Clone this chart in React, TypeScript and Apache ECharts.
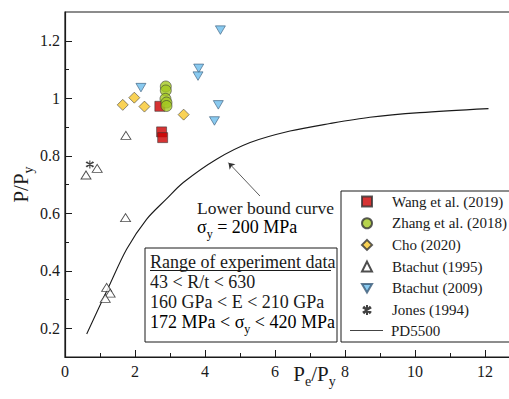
import React, { useEffect, useRef } from "react";
import * as echarts from "echarts";

// ---- data ----
const wang: number[][] = [[2.71, 0.972], [2.76, 0.883], [2.79, 0.863]];
const zhang: number[][] = [[2.88, 1.041], [2.88, 1.027], [2.87, 0.998], [2.9, 0.985], [2.9, 0.973]];
const cho: number[][] = [[1.65, 0.977], [1.98, 1.002], [2.27, 0.971], [3.39, 0.943]];
const btachut1995: number[][] = [[0.6, 0.733], [0.92, 0.756], [1.74, 0.871], [1.73, 0.585], [1.19, 0.342], [1.29, 0.322], [1.15, 0.304]];
const btachut2009: number[][] = [[2.17, 1.037], [4.44, 1.237], [3.82, 1.104], [3.8, 1.077], [4.38, 0.977], [4.27, 0.921]];
const jones: number[][] = [[0.71, 0.77]];
const pd5500: number[][] = [
  [0.62, 0.18], [1.24, 0.342], [1.76, 0.475], [2.33, 0.579], [2.9, 0.65], [3.38, 0.707],
  [4.33, 0.788], [5.29, 0.846], [6.43, 0.886], [7.57, 0.912], [8.71, 0.934], [10.14, 0.95], [12.1, 0.964],
];
const arrowCoords: number[][] = [[5.57, 0.66], [4.67, 0.776]];

const xMajor = [0, 2, 4, 6, 8, 10, 12];
const xMinor = [1, 3, 5, 7, 9, 11];
const yMajor = [0.2, 0.4, 0.6, 0.8, 1, 1.2];
const yMinor = [0.3, 0.5, 0.7, 0.9, 1.1];

const markerNames = ["Wang et al. (2019)", "Zhang et al. (2018)", "Cho (2020)", "Btachut (1995)", "Btachut (2009)", "Jones (1994)"];
const lineName = "PD5500";

const FONT = "Liberation Serif";
const INK = "#1a1a1a";
const DOWN_TRI = "path://M0,0L10,0L5,8.5Z";

export default function App() {
  const ref = useRef<HTMLDivElement>(null);
  useEffect(() => {
    if (!ref.current) return;
    const chart = echarts.init(ref.current, undefined, { renderer: "svg" });
    const sub = {
      a: { fontSize: 21, fontFamily: FONT, color: INK, lineHeight: 21, verticalAlign: "top" },
      s: { fontSize: 14, fontFamily: FONT, color: INK, lineHeight: 14, verticalAlign: "top", padding: [11, 0, 0, 0] },
    };
    const sub18 = {
      a: { fontSize: 18, fontFamily: FONT, color: INK, lineHeight: 18, verticalAlign: "top" },
      s: { fontSize: 12, fontFamily: FONT, color: INK, lineHeight: 12, verticalAlign: "top", padding: [10, 0, 0, 0] },
    };
    const axisCommon = {
      type: "value",
      splitLine: { show: false },
    };
    const markerBorder = { borderColor: "#333", borderWidth: 0.7 };
    const legendText = { fontSize: 15, color: INK, fontFamily: FONT, lineHeight: 14 };
    const boxText = (text: string, y: number, x = 150, size = 18) => ({
      type: "text", x, y, z: 2,
      style: { text, fontSize: size, fontFamily: FONT, fill: INK, verticalAlign: "middle" },
    });
    chart.setOption({
      animation: false,
      backgroundColor: "#fff",
      textStyle: { fontFamily: FONT },
      grid: {
        left: 65, top: 12, right: -11, bottom: 42, show: true, borderColor: INK, borderWidth: 1.2,
        backgroundColor: "transparent", containLabel: false, outerBoundsMode: "none",
      },
      xAxis: [
        {
          ...axisCommon,
          min: 0, max: 13,
          name: "{a|P}{s|e}{a|/P}{s|y}",
          nameLocation: "middle",
          nameGap: 6,
          nameMoveOverlap: false,
          nameTextStyle: { rich: sub, align: "center", verticalAlign: "top", padding: [0, 0, 0, 44] },
          axisLine: { lineStyle: { color: INK, width: 1.2 } },
          axisTick: { inside: true, length: 7, customValues: xMajor, lineStyle: { color: INK } },
          axisLabel: { customValues: xMajor, fontSize: 16, color: INK, fontFamily: FONT, margin: 6 },
        },
        {
          ...axisCommon,
          min: 0, max: 13, position: "bottom",
          axisLine: { show: false },
          axisTick: { inside: true, length: 4, customValues: xMinor, lineStyle: { color: INK } },
          axisLabel: { show: false },
        },
      ],
      yAxis: [
        {
          ...axisCommon,
          min: 0.1, max: 1.3,
          name: "{a|P/P}{s|y}",
          nameLocation: "middle",
          nameGap: 34,
          nameMoveOverlap: false,
          nameRotate: 90,
          nameTextStyle: { rich: sub },
          axisLine: { lineStyle: { color: INK, width: 1.2 } },
          axisTick: { inside: true, length: 7, customValues: yMajor, lineStyle: { color: INK } },
          axisLabel: {
            customValues: yMajor, fontSize: 16, color: INK, fontFamily: FONT, margin: 5,
            formatter: (v: number) => String(+Number(v).toFixed(1)),
          },
        },
        {
          ...axisCommon,
          min: 0.1, max: 1.3, position: "left",
          axisLine: { show: false },
          axisTick: { inside: true, length: 4, customValues: yMinor, lineStyle: { color: INK } },
          axisLabel: { show: false },
        },
      ],
      legend: [
        {
          orient: "vertical",
          left: 356,
          top: 189,
          padding: 5,
          itemWidth: 10,
          itemHeight: 10,
          itemGap: 6.7,
          textStyle: { ...legendText, padding: [0, 0, 0, 15] },
          data: markerNames.map((n, i) => (i === 4 ? { name: n, icon: DOWN_TRI } : { name: n })),
        },
        {
          orient: "vertical",
          left: 345,
          top: 318,
          padding: 5,
          itemWidth: 33,
          itemHeight: 1.2,
          textStyle: { ...legendText, padding: [0, 0, 0, 3] },
          data: [{ name: lineName, icon: "rect", itemStyle: { color: "#444" } }],
        },
      ],
      graphic: [
        { type: "rect", shape: { x: 341, y: 191, width: 200, height: 151 }, style: { fill: "none", stroke: INK, lineWidth: 1 }, z: 1 },
        { type: "rect", shape: { x: 145, y: 248, width: 192, height: 94 }, style: { fill: "#fff", stroke: INK, lineWidth: 1 }, z: 1 },
        boxText("Range of experiment data", 262),
        { type: "line", shape: { x1: 150, y1: 270.5, x2: 331, y2: 270.5 }, style: { stroke: INK, lineWidth: 1 }, z: 2 },
        boxText("43 < R/t < 630", 282),
        boxText("160 GPa < E < 210 GPa", 302),
        { type: "text", x: 150, y: 313, style: { text: "{a|172 MPa < σ}{s|y}{a| < 420 MPa}", rich: sub18 }, z: 2 },
        boxText("Lower bound curve", 208, 197, 17.5),
        { type: "text", x: 197, y: 218, style: { text: "{a|σ}{s|y}{a| = 200 MPa}", rich: sub18 }, z: 2 },
      ],
      series: [
        {
          name: lineName, type: "line", data: pd5500, smooth: 0.3, symbol: "none",
          lineStyle: { color: INK, width: 1.1 }, itemStyle: { color: INK }, z: 2,
        },
        {
          type: "lines", coordinateSystem: "cartesian2d", silent: true,
          data: [{ coords: arrowCoords }], symbol: ["none", "arrow"], symbolSize: 6,
          lineStyle: { color: "#333", width: 0.8, opacity: 1 }, z: 2,
        },
        { name: markerNames[0], type: "scatter", data: wang, symbol: "rect", symbolSize: 10, itemStyle: { color: "#cc0000", ...markerBorder }, z: 3 },
        { name: markerNames[1], type: "scatter", data: zhang, symbol: "circle", symbolSize: 11, itemStyle: { color: "#a4c820", ...markerBorder }, z: 4 },
        { name: markerNames[2], type: "scatter", data: cho, symbol: "diamond", symbolSize: 11, itemStyle: { color: "#f8c72c", ...markerBorder }, z: 3 },
        { name: markerNames[3], type: "scatter", data: btachut1995, symbol: "triangle", symbolSize: [10, 8], itemStyle: { color: "#fff", borderColor: "#222", borderWidth: 0.9 }, z: 3 },
        { name: markerNames[4], type: "scatter", data: btachut2009, symbol: DOWN_TRI, symbolSize: [10, 8.5], itemStyle: { color: "#6cbdec", borderColor: "#3a5a78", borderWidth: 0.8 }, z: 3 },
        {
          name: markerNames[5], type: "scatter", data: jones,
          symbol: "path://M5,0L5,10M0.7,2.5L9.3,7.5M9.3,2.5L0.7,7.5M1.5,1.5L8.5,8.5M8.5,1.5L1.5,8.5",
          symbolSize: 8, itemStyle: { color: "rgba(0,0,0,0)", borderColor: "#111", borderWidth: 1.1 }, z: 3,
        },
      ],
    });
    return () => chart.dispose();
  }, []);
  return <div ref={ref} style={{ width: 509, height: 399, position: "absolute", left: 0, top: 0 }} />;
}
